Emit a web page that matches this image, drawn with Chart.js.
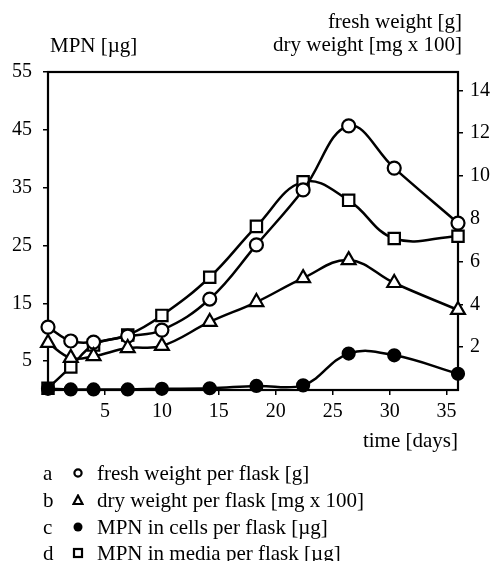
<!DOCTYPE html>
<html>
<head>
<meta charset="utf-8">
<script src="https://cdn.jsdelivr.net/npm/chart.js@4"></script>
<style>
  body { margin: 0; background: #fff; }
  #wrap { position: relative; width: 502px; height: 561px; overflow: hidden; font-family: "Liberation Serif", "Times New Roman", serif; color: #000; }
  #chart { position: absolute; left: 0; top: 0; }
  .lbl { position: absolute; font-size: 21px; line-height: 24px; white-space: nowrap; }
  .right { text-align: right; }
  .sym { position: absolute; width: 12px; height: 12px; }
</style>
</head>
<body>
<div id="wrap">
  <canvas id="chart" width="502" height="561"></canvas>

  <div class="lbl" style="left:50px; top:33px;">MPN [µg]</div>
  <div class="lbl right" style="right:40px; top:9px;">fresh weight [g]</div>
  <div class="lbl right" style="right:40px; top:32px;">dry weight [mg x 100]</div>
  <div class="lbl right" style="right:44px; top:428px;">time [days]</div>

  <div class="lbl" style="left:43px; top:461px;">a</div>
  <svg class="sym" style="left:72px; top:467px;" viewBox="0 0 12 12"><circle cx="6" cy="6" r="3.6" fill="#fff" stroke="#000" stroke-width="2.2"/></svg>
  <div class="lbl" style="left:97px; top:461px;">fresh weight per flask [g]</div>

  <div class="lbl" style="left:43px; top:488px;">b</div>
  <svg class="sym" style="left:72px; top:494px;" viewBox="0 0 12 12"><polygon points="6,1.5 10.5,10 1.5,10" fill="#fff" stroke="#000" stroke-width="2.2"/></svg>
  <div class="lbl" style="left:97px; top:488px;">dry weight per flask [mg x 100]</div>

  <div class="lbl" style="left:43px; top:515px;">c</div>
  <svg class="sym" style="left:72px; top:521px;" viewBox="0 0 12 12"><circle cx="6" cy="6" r="4.5" fill="#000"/></svg>
  <div class="lbl" style="left:97px; top:515px;">MPN in cells per flask [µg]</div>

  <div class="lbl" style="left:43px; top:541px;">d</div>
  <svg class="sym" style="left:72px; top:547px;" viewBox="0 0 12 12"><rect x="2" y="2" width="8" height="8" fill="#fff" stroke="#000" stroke-width="2.2"/></svg>
  <div class="lbl" style="left:97px; top:541px;">MPN in media per flask [µg]</div>
</div>

<script>
const days = [0, 2, 4, 7, 10, 14.2, 18.3, 22.4, 26.4, 30.4, 36];
const freshWeight = [2.94, 2.29, 2.24, 2.52, 2.80, 4.25, 6.78, 9.35, 12.34, 10.37, 7.80];
const dryWeight = [2.20, 1.50, 1.58, 1.96, 2.06, 3.18, 4.11, 5.23, 6.07, 5.00, 3.74];
const mpnCells = [0.2, 0.1, 0.1, 0.1, 0.2, 0.3, 0.7, 0.8, 6.3, 6.0, 2.8];
const mpnMedia = [0.3, 4.0, 7.8, 9.5, 12.9, 19.5, 28.3, 36.0, 32.8, 26.2, 26.6];

const dayTicks = [5, 10, 15, 20, 25, 30, 35];
const mpnTicks = [5, 15, 25, 35, 45, 55];
const weightTicks = [2, 4, 6, 8, 10, 12, 14];

const tickFont = { family: '"Liberation Serif", "Times New Roman", serif', size: 20 };

function points(ys) {
  return days.map((d, i) => ({ x: d, y: ys[i] }));
}

function series(label, ys, axis, style, radius, fill) {
  return {
    label: label,
    data: points(ys),
    yAxisID: axis,
    borderColor: '#000',
    borderWidth: 2.5,
    tension: 0.4,
    pointStyle: style,
    pointRadius: radius,
    pointBackgroundColor: fill,
    pointBorderColor: '#000',
    pointBorderWidth: 2.2,
    clip: false
  };
}

// box round the plot area
const frame = {
  id: 'frame',
  beforeDatasetsDraw(chart) {
    const a = chart.chartArea;
    const c = chart.ctx;
    c.save();
    c.strokeStyle = '#000';
    c.lineWidth = 2.2;
    c.strokeRect(a.left, a.top, a.right - a.left, a.bottom - a.top);
    c.restore();
  }
};

const ctx = document.querySelector('#chart').getContext('2d');

new Chart(ctx, {
  type: 'line',
  data: {
    datasets: [
      series('MPN in cells per flask [µg]', mpnCells, 'yMpn', 'circle', 6, '#000'),
      series('dry weight per flask [mg x 100]', dryWeight, 'yWeight', 'triangle', 8, '#fff'),
      series('fresh weight per flask [g]', freshWeight, 'yWeight', 'circle', 6.5, '#fff'),
      series('MPN in media per flask [µg]', mpnMedia, 'yMpn', 'rect', 8, '#fff')
    ]
  },
  options: {
    responsive: false,
    animation: false,
    layout: { autoPadding: false, padding: { top: 72, bottom: 141, left: 0, right: 0 } },
    plugins: { legend: { display: false }, tooltip: { enabled: false } },
    scales: {
      x: {
        type: 'linear',
        min: 0,
        max: 36,
        afterBuildTicks: s => { s.ticks = dayTicks.map(v => ({ value: v })); },
        afterFit: s => { s.height = 30; },
        grid: { drawOnChartArea: false, tickLength: 5, color: '#000', lineWidth: 1.5 },
        border: { display: false },
        ticks: { color: '#000', font: tickFont, padding: 5, maxRotation: 0 }
      },
      yMpn: {
        position: 'left',
        min: 0,
        max: 55,
        afterBuildTicks: s => { s.ticks = mpnTicks.map(v => ({ value: v })); },
        afterFit: s => { s.width = 48; },
        grid: { drawOnChartArea: false, tickLength: 5, color: '#000', lineWidth: 1.5 },
        border: { display: false },
        ticks: { color: '#000', font: tickFont, padding: 11 }
      },
      yWeight: {
        position: 'right',
        min: 0,
        max: 14.86,
        afterBuildTicks: s => { s.ticks = weightTicks.map(v => ({ value: v })); },
        afterFit: s => { s.width = 44; },
        grid: { drawOnChartArea: false, tickLength: 5, color: '#000', lineWidth: 1.5 },
        border: { display: false },
        ticks: { color: '#000', font: tickFont, padding: 7 }
      }
    }
  },
  plugins: [frame]
});
</script>
</body>
</html>
